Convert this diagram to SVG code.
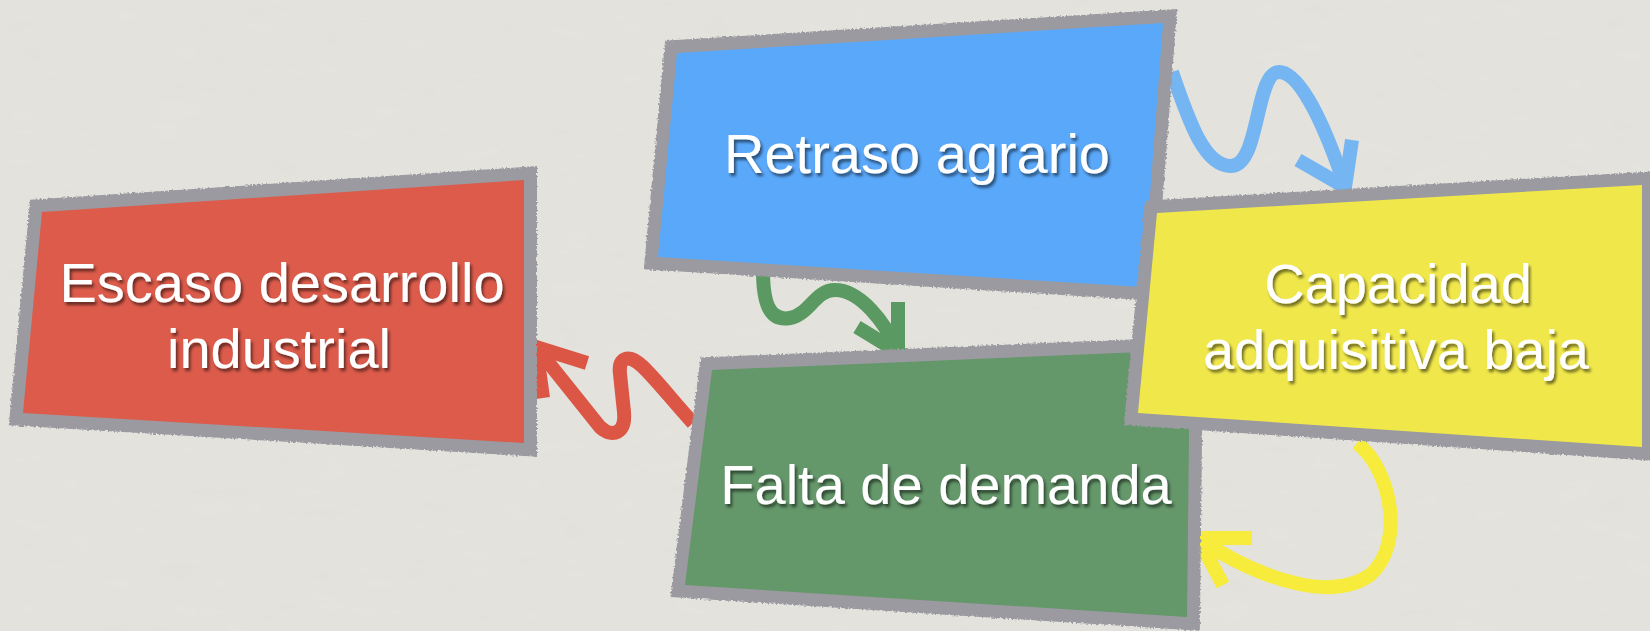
<svg xmlns="http://www.w3.org/2000/svg" width="1650" height="631" viewBox="0 0 1650 631">
  <defs>
    <filter id="paper" x="0" y="0" width="100%" height="100%">
      <feTurbulence type="fractalNoise" baseFrequency="0.02 0.05" numOctaves="3" seed="3" result="n"/>
      <feColorMatrix in="n" type="matrix" values="0 0 0 0 0.6  0 0 0 0 0.6  0 0 0 0 0.58  0 0 0 0.10 0" result="g"/>
      <feComposite in="g" in2="SourceGraphic" operator="over"/>
    </filter>
    <filter id="rough" x="-5%" y="-5%" width="110%" height="110%">
      <feTurbulence type="fractalNoise" baseFrequency="0.5" numOctaves="2" seed="7" result="t"/>
      <feDisplacementMap in="SourceGraphic" in2="t" scale="4" xChannelSelector="R" yChannelSelector="G"/>
    </filter>
    <filter id="shadow" x="-10%" y="-30%" width="120%" height="160%">
      <feGaussianBlur in="SourceAlpha" stdDeviation="1.5" result="b"/>
      <feOffset in="b" dx="2" dy="3" result="o"/>
      <feComponentTransfer in="o" result="s"><feFuncA type="linear" slope="0.55"/></feComponentTransfer>
      <feMerge><feMergeNode in="s"/><feMergeNode in="SourceGraphic"/></feMerge>
    </filter>
  </defs>
  <style>
    .border { fill: #9b9aa0; stroke: #9b9aa0; stroke-width: 26; stroke-linejoin: miter; filter: url(#rough); }
    .label { font-family: "Liberation Sans", Arial, Helvetica, sans-serif; font-size: 56px; fill: #ffffff; text-anchor: middle; filter: url(#shadow); }
    .conn { fill: none; stroke-width: 14; stroke-linecap: butt; stroke-linejoin: miter; }
  </style>

  <rect width="1650" height="631" fill="#e4e3de" filter="url(#paper)"/>

  <g id="connectors">
    <g id="c-retraso-capacidad" class="conn" stroke="#74b5f2">
      <path d="M1172,72 C1190,125 1205,166 1231,166 C1260,166 1255,72 1279,72 C1302,72 1328,135 1345,186"/>
      <path d="M1298,160 L1345,187 L1352,140"/>
    </g>
    <g id="c-retraso-falta" class="conn" stroke="#5a9a62">
      <path d="M763,270 C763,300 768,322 790,318 C810,314 815,290 835,290 C860,290 885,322 897,350"/>
      <path d="M857,327 L898,352 L898,302"/>
    </g>
    <g id="c-falta-escaso" class="conn" stroke="#dc5646">
      <path d="M693,423 C672,400 655,378 642,366 C628,353 618,358 620,374 L624,412 C626,434 612,438 600,427 L540,352"/>
      <path d="M587,363 L536,347 L543,398"/>
    </g>
    <g id="c-capacidad-falta" class="conn" stroke="#f7ec3c">
      <path d="M1357,443 C1392,470 1405,545 1370,575 C1335,600 1270,585 1200,540"/>
      <path d="M1252,538 L1198,538 L1223,585"/>
    </g>
  </g>

  <g id="node-escaso">
    <polygon class="border" points="42,212 524,180 524,443 23,413"/>
    <polygon fill="#dc5b4b" points="42,212 524,180 524,443 23,413"/>
    <text class="label" x="282" y="302">Escaso desarrollo</text>
    <text class="label" x="279" y="368">industrial</text>
  </g>

  <g id="node-retraso">
    <polygon class="border" points="677,53 1163,23 1143,287 658,257"/>
    <polygon fill="#5aa8fa" points="677,53 1163,23 1143,287 658,257"/>
    <text class="label" x="917" y="173">Retraso agrario</text>
  </g>

  <g id="node-falta">
    <polygon class="border" points="712,370 1190,350 1187,617 685,585"/>
    <polygon fill="#64976a" points="712,370 1190,350 1187,617 685,585"/>
    <text class="label" x="946" y="504">Falta de demanda</text>
  </g>

  <g id="node-capacidad">
    <polygon class="border" points="1157,213 1642,185 1642,447 1138,413"/>
    <polygon fill="#f5ed45" fill-opacity="0.94" points="1157,213 1642,185 1642,447 1138,413"/>
    <text class="label" x="1398" y="303">Capacidad</text>
    <text class="label" x="1396" y="369">adquisitiva baja</text>
  </g>
</svg>
